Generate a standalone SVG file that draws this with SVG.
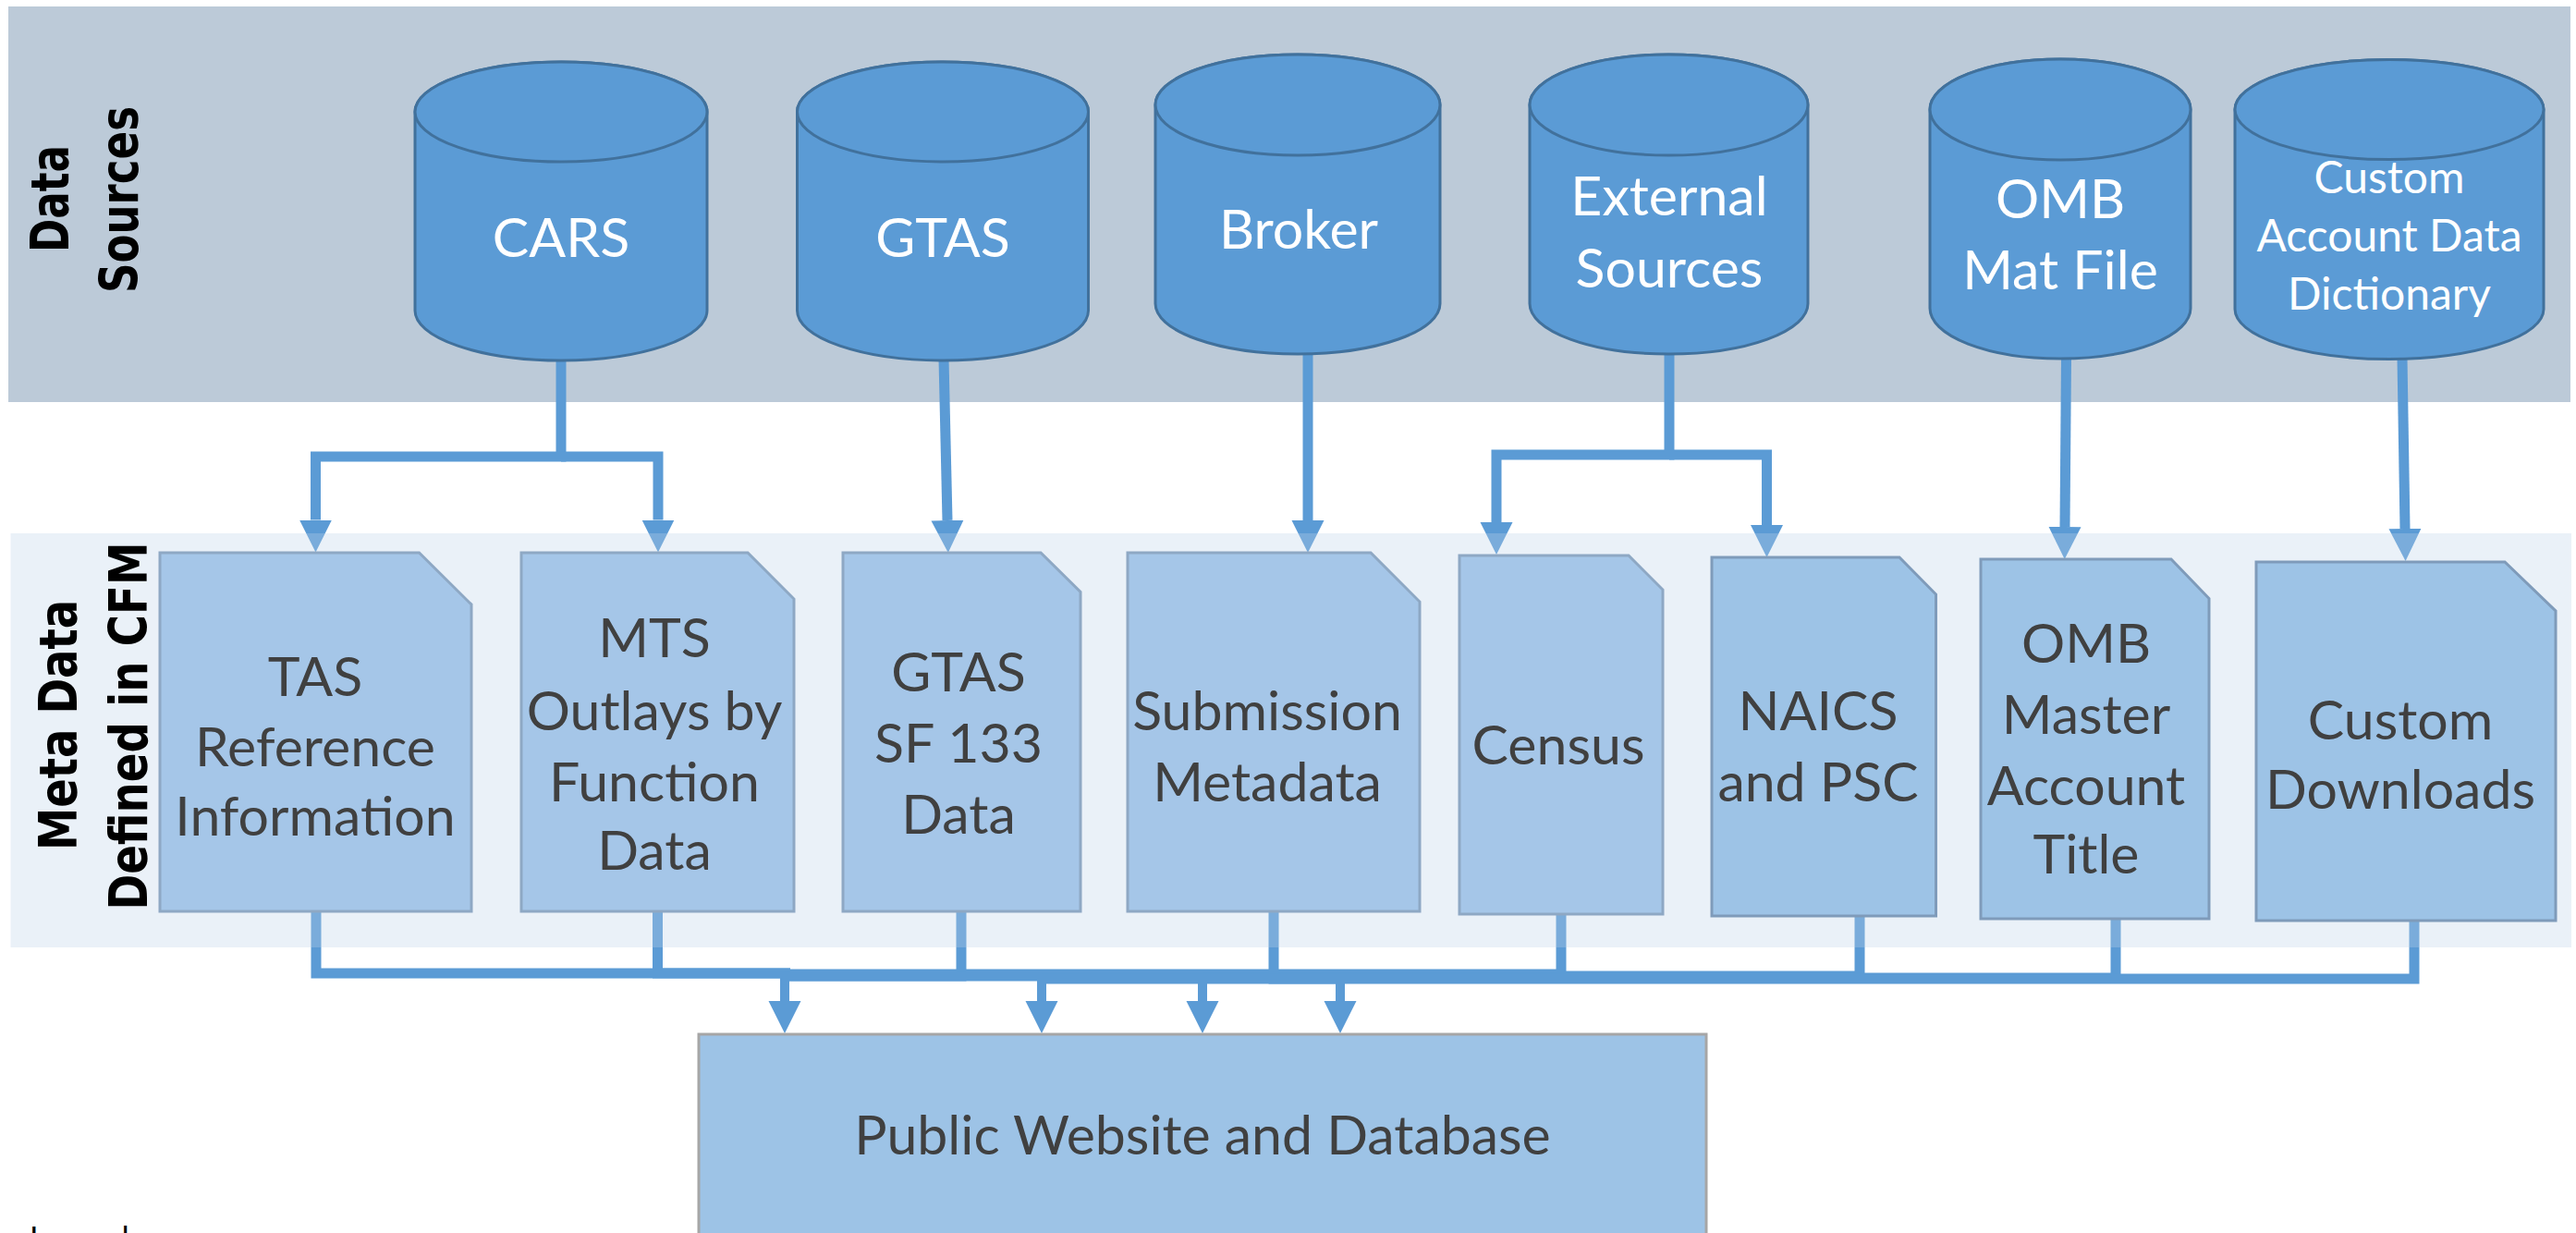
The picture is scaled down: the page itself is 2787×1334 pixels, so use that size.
<svg xmlns="http://www.w3.org/2000/svg" width="2787" height="1334" viewBox="0 0 2787 1334">
<defs>
<style>
.cyl{fill:#5B9BD5;stroke:#41719C;stroke-width:3}
.doc{fill:#A5C6E8;stroke:#8EA8C4;stroke-width:3}
.doc2{fill:#9DC3E6;stroke:#7F9BBA;stroke-width:3}
.lbl{font-family:Lato,"Liberation Sans",sans-serif;font-size:59px;fill:#404040;text-anchor:middle}
.wl{fill:#FFFFFF}
.sm{font-size:48px}
.conn{fill:none;stroke:#5B9BD5;stroke-width:11;stroke-linejoin:miter}
.thin{stroke-width:10}
.side{font-family:"DejaVu Sans",sans-serif;font-weight:bold;font-size:57px;fill:#000000;text-anchor:middle}
</style>
<marker id="ah" markerUnits="userSpaceOnUse" markerWidth="36" markerHeight="36" viewBox="0 -18 36 36" refX="0" refY="0" orient="auto">
<path d="M0,-17.5 L35,0 L0,17.5 Z" fill="#5B9BD5"/>
</marker>
</defs>
<rect width="2787" height="1334" fill="#FFFFFF"/>
<rect id="band-sources" x="9" y="7" width="2772" height="428" fill="#BCCAD8"/>
<g id="label-sources">
<text class="side" transform="translate(73.5,215) rotate(-90)" textLength="116" lengthAdjust="spacingAndGlyphs">Data</text>
<text class="side" transform="translate(149,216) rotate(-90)" textLength="202" lengthAdjust="spacingAndGlyphs">Sources</text>
</g>
<g id="connectors">
<path class="conn" d="M607,388 V494 H341.5 V562.5" marker-end="url(#ah)"/>
<path class="conn" d="M607,494 H712 V562.5" marker-end="url(#ah)"/>
<path class="conn" d="M1021,388 L1025,563" marker-end="url(#ah)"/>
<path class="conn" d="M1415,381 V563" marker-end="url(#ah)"/>
<path class="conn" d="M1806,381 V492 H1619 V565" marker-end="url(#ah)"/>
<path class="conn" d="M1806,492 H1911.5 V568" marker-end="url(#ah)"/>
<path class="conn" d="M2235.5,386 L2234,570" marker-end="url(#ah)"/>
<path class="conn" d="M2599,387 L2602,572" marker-end="url(#ah)"/>
<path class="conn" d="M342,984 V1053 H855"/>
<path class="conn" d="M711.5,984 V1053 H855"/>
<path class="conn" d="M1689,986 V1054 H849"/>
<path class="conn" d="M1040,984 V1056 H849"/>
<path class="conn" d="M2012,989 V1056 H849"/>
<path class="conn" d="M2289,992 V1058 H1301"/>
<path class="conn" d="M1378,984 V1059 H1450"/>
<path class="conn" d="M2612,994 V1059 H1127"/>
<path class="conn thin" d="M849,1058 V1083" marker-end="url(#ah)"/>
<path class="conn thin" d="M1127,1061 V1083" marker-end="url(#ah)"/>
<path class="conn thin" d="M1301,1063 V1083" marker-end="url(#ah)"/>
<path class="conn thin" d="M1450,1063 V1083" marker-end="url(#ah)"/>
</g>
<rect id="band-meta" x="11.5" y="577" width="2770.5" height="448" fill="rgb(189,211,233)" fill-opacity="0.317"/>
<g id="label-meta">
<text class="side" transform="translate(83,784.5) rotate(-90)" textLength="271" lengthAdjust="spacingAndGlyphs">Meta Data</text>
<text class="side" transform="translate(159,785.6) rotate(-90)" textLength="398" lengthAdjust="spacingAndGlyphs">Defined in CFM</text>
</g>
<g id="cars">
<path class="cyl" d="M449,121 V336 A158,54 0 0 0 765,336 V121 A158,54 0 0 0 449,121 Z"/>
<ellipse class="cyl" cx="607" cy="121" rx="158" ry="54"/>
<text class="lbl wl" x="607" y="278">CARS</text>
</g>
<g id="gtas">
<path class="cyl" d="M862.5,121 V336 A157.5,54 0 0 0 1177.5,336 V121 A157.5,54 0 0 0 862.5,121 Z"/>
<ellipse class="cyl" cx="1020" cy="121" rx="157.5" ry="54"/>
<text class="lbl wl" x="1020" y="278">GTAS</text>
</g>
<g id="broker">
<path class="cyl" d="M1250,113.5 V328.5 A154,54.5 0 0 0 1558,328.5 V113.5 A154,54.5 0 0 0 1250,113.5 Z"/>
<ellipse class="cyl" cx="1404" cy="113.5" rx="154" ry="54.5"/>
<text class="lbl wl" x="1405" y="269">Broker</text>
</g>
<g id="external">
<path class="cyl" d="M1655,113.5 V328.5 A150.5,54.5 0 0 0 1956,328.5 V113.5 A150.5,54.5 0 0 0 1655,113.5 Z"/>
<ellipse class="cyl" cx="1805.5" cy="113.5" rx="150.5" ry="54.5"/>
<text class="lbl wl" x="1806" y="233">External</text>
<text class="lbl wl" x="1806" y="311">Sources</text>
</g>
<g id="omb-mat">
<path class="cyl" d="M2088,118.5 V333.5 A141,54.5 0 0 0 2370,333.5 V118.5 A141,54.5 0 0 0 2088,118.5 Z"/>
<ellipse class="cyl" cx="2229" cy="118.5" rx="141" ry="54.5"/>
<text class="lbl wl" x="2229" y="236">OMB</text>
<text class="lbl wl" x="2229" y="313">Mat File</text>
</g>
<g id="custom-dict">
<path class="cyl" d="M2418,118.5 V334.5 A167,54 0 0 0 2752,334.5 V118.5 A167,54 0 0 0 2418,118.5 Z"/>
<ellipse class="cyl" cx="2585" cy="118.5" rx="167" ry="54"/>
<text class="lbl wl sm" x="2585" y="209">Custom</text>
<text class="lbl wl sm" x="2585" y="272">Account Data</text>
<text class="lbl wl sm" x="2585" y="335">Dictionary</text>
</g>
<g id="tas">
<path class="doc" d="M173,598 H453.5 L510,654 V986 H173 Z"/>
<text class="lbl" x="341" y="753">TAS</text>
<text class="lbl" x="341" y="829">Reference</text>
<text class="lbl" x="341" y="904">Information</text>
</g>
<g id="mts">
<path class="doc" d="M564,598 H809 L859,648 V986 H564 Z"/>
<text class="lbl" x="708" y="711">MTS</text>
<text class="lbl" x="708" y="790">Outlays by</text>
<text class="lbl" x="708" y="867">Function</text>
<text class="lbl" x="708" y="941">Data</text>
</g>
<g id="gtas-sf133">
<path class="doc" d="M912,598 H1126 L1169,640.5 V986 H912 Z"/>
<text class="lbl" x="1037" y="748">GTAS</text>
<text class="lbl" x="1037" y="825">SF 133</text>
<text class="lbl" x="1037" y="902">Data</text>
</g>
<g id="submission">
<path class="doc" d="M1220,598 H1483 L1536,651 V986 H1220 Z"/>
<text class="lbl" x="1371" y="790">Submission</text>
<text class="lbl" x="1371" y="867">Metadata</text>
</g>
<g id="census">
<path class="doc" d="M1579,601 H1762 L1799,638 V989 H1579 Z"/>
<text class="lbl" x="1686" y="827">Census</text>
</g>
<g id="naics">
<path class="doc2" d="M1852,603 H2055 L2094.5,643 V991 H1852 Z"/>
<text class="lbl" x="1967" y="790">NAICS</text>
<text class="lbl" x="1967" y="867">and PSC</text>
</g>
<g id="omb-master">
<path class="doc2" d="M2143,605 H2349 L2390,647.5 V994 H2143 Z"/>
<text class="lbl" x="2257" y="717">OMB</text>
<text class="lbl" x="2257" y="794">Master</text>
<text class="lbl" x="2257" y="871">Account</text>
<text class="lbl" x="2257" y="945">Title</text>
</g>
<g id="custom-downloads">
<path class="doc2" d="M2441,608 H2710 L2765,661 V996 H2441 Z"/>
<text class="lbl" x="2597" y="800">Custom</text>
<text class="lbl" x="2597" y="875">Downloads</text>
</g>
<g id="public-website">
<rect x="756" y="1119" width="1090" height="240" fill="#9DC3E6" stroke="#A6A6A6" stroke-width="3"/>
<text class="lbl" x="1301" y="1249">Public Website and Database</text>
</g>
<text id="legend" x="32" y="1352" font-family="Lato,'Liberation Sans',sans-serif" font-size="34" fill="#000000">Legend</text>
</svg>
